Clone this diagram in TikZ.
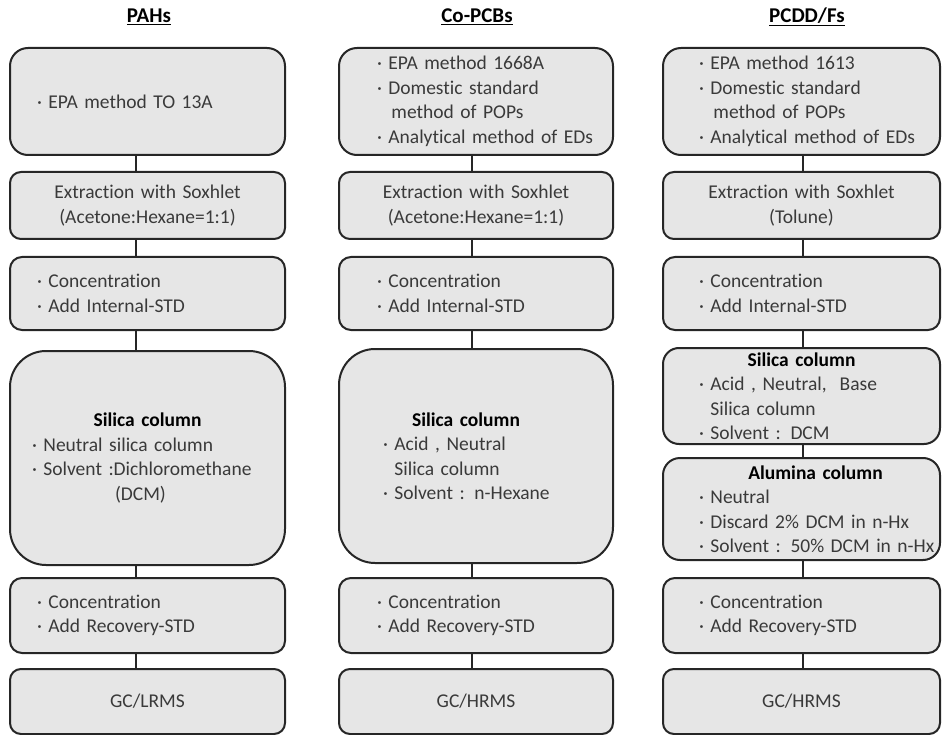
\documentclass[tikz,border=0pt]{standalone}
\usepackage{fontspec}
\setmainfont{Carlito}[Ligatures=NoCommon, WordSpace=0.85]
\usepackage{tikz}
\setlength{\parindent}{0pt}
\definecolor{boxgray}{RGB}{230,230,230}
\definecolor{edgegray}{RGB}{38,38,38}
\definecolor{textgray}{RGB}{58,58,58}
\newlength{\bulx}
\newcommand{\itm}{\hspace*{\bulx}·\ }
\newcommand{\nxt}{\hspace*{\bulx}\hphantom{·\ }}
\tikzstyle{stage} = [rectangle, draw=edgegray, line width=2pt, fill=boxgray, text=textgray, align=left, inner xsep=4pt, inner ysep=0pt, font=\fontsize{19.5}{24.5}\selectfont]
\tikzstyle{pahs} = [stage, text width=267pt, execute at begin node={\setlength{\bulx}{23pt}}]
\tikzstyle{pcbs} = [stage, text width=266pt, execute at begin node={\setlength{\bulx}{34pt}}]
\tikzstyle{pcdd} = [stage, text width=269pt, execute at begin node={\setlength{\bulx}{32pt}}]
\tikzstyle{title} = [font=\fontsize{21}{25}\selectfont\bfseries, inner sep=0pt]
\tikzstyle{link} = [draw=edgegray, line width=2pt]

\begin{document}
\begin{tikzpicture}[x=1pt, y=-1pt]
    \useasboundingbox (0,0) rectangle (942,735);
    \node [title] (hpahs) at (149,17) {\underline{PAHs}};
    \node [title] (hpcbs) at (477,17) {\underline{Co-PCBs}};
    \node [title] (hpcdd) at (807,17) {\underline{PCDD/Fs}};

    % PAHs
    \node [pahs, minimum height=107pt, rounded corners=18pt] (a1) at (147.5,101.5) {\itm EPA method TO 13A};
    \node [pahs, minimum height=67pt, rounded corners=11pt] (a2) at (147.5,205.5)
    {\centerline{Extraction with Soxhlet}\\\centerline{(Acetone:Hexane=1:1)}};
    \node [pahs, minimum height=73pt, rounded corners=12pt] (a3) at (147.5,293.5)
    {\itm Concentration\\\itm Add Internal-STD};
    \node [pahs, minimum height=214pt, rounded corners=36pt, execute at begin node={\setlength{\bulx}{18pt}}] (a4) at (147.5,458)
    {\centerline{\color{black}\bfseries Silica column}\\
      \itm Neutral silica column\\
      \itm Solvent :Dichloromethane\\
      \hspace*{101pt}(DCM)};
    \node [pahs, minimum height=75pt, rounded corners=12pt] (a5) at (147.5,615.5)
    {\itm Concentration\\\itm Add Recovery-STD};
    \node [pahs, minimum height=65pt, rounded corners=11pt] (a6) at (147.5,701.5) {\centerline{GC/LRMS}};

    % Co-PCBs
    \node [pcbs, minimum height=107pt, rounded corners=18pt] (b1) at (476,101.5)
    {\itm EPA method 1668A\\
      \itm Domestic standard\\
      \nxt\hspace*{3pt}method of POPs\\
      \itm Analytical method of EDs};
    \node [pcbs, minimum height=67pt, rounded corners=11pt] (b2) at (476,205.5)
    {\centerline{Extraction with Soxhlet}\\\centerline{(Acetone:Hexane=1:1)}};
    \node [pcbs, minimum height=73pt, rounded corners=12pt] (b3) at (476,293.5)
    {\itm Concentration\\\itm Add Internal-STD};
    \node [pcbs, minimum height=214pt, rounded corners=36pt, execute at begin node={\setlength{\bulx}{40pt}}] (b4) at (476,456)
    {\centerline{\color{black}\bfseries Silica column\hspace*{20pt}}\\
      \itm Acid , Neutral\\
      \nxt Silica column\\
      \itm Solvent : n-Hexane};
    \node [pcbs, minimum height=75pt, rounded corners=12pt] (b5) at (476,615.5)
    {\itm Concentration\\\itm Add Recovery-STD};
    \node [pcbs, minimum height=65pt, rounded corners=11pt] (b6) at (476,701.5) {\centerline{GC/HRMS}};

    % PCDD/Fs
    \node [pcdd, minimum height=107pt, rounded corners=18pt] (c1) at (801.5,101.5)
    {\itm EPA method 1613\\
      \itm Domestic standard\\
      \nxt\hspace*{3pt}method of POPs\\
      \itm Analytical method of EDs};
    \node [pcdd, minimum height=67pt, rounded corners=11pt] (c2) at (801.5,205.5)
    {\centerline{Extraction with Soxhlet}\\\centerline{(Tolune)}};
    \node [pcdd, minimum height=73pt, rounded corners=12pt] (c3) at (801.5,293.5)
    {\itm Concentration\\\itm Add Internal-STD};
    \node [pcdd, minimum height=96pt, rounded corners=16pt] (c4) at (801.5,396)
    {\centerline{\color{black}\bfseries Silica column}\\
      \itm Acid , Neutral,~ Base\\
      \nxt Silica column\\
      \itm Solvent : DCM};
    \node [pcdd, minimum height=102pt, rounded corners=17pt] (c5) at (801.5,509)
    {\centerline{\color{black}\bfseries\hspace*{28pt}Alumina column}\\
      \itm Neutral\\
      \itm Discard 2\% DCM in n-Hx\\
      \itm Solvent : 50\% DCM in n-Hx};
    \node [pcdd, minimum height=75pt, rounded corners=12pt] (c6) at (801.5,615.5)
    {\itm Concentration\\\itm Add Recovery-STD};
    \node [pcdd, minimum height=65pt, rounded corners=11pt] (c7) at (801.5,701.5) {\centerline{GC/HRMS}};

    % connectors
    \coordinate (ka) at (136,0);
    \coordinate (kb) at (472,0);
    \coordinate (kc) at (803,0);
    \foreach \u/\v in {a1/a2, a2/a3, a3/a4, a4/a5, a5/a6}
      \draw [link] (\u.south -| ka) -- (\v.north -| ka);
    \foreach \u/\v in {b1/b2, b2/b3, b3/b4, b4/b5, b5/b6}
      \draw [link] (\u.south -| kb) -- (\v.north -| kb);
    \foreach \u/\v in {c1/c2, c2/c3, c3/c4, c4/c5, c5/c6, c6/c7}
      \draw [link] (\u.south -| kc) -- (\v.north -| kc);
\end{tikzpicture}
\end{document}
